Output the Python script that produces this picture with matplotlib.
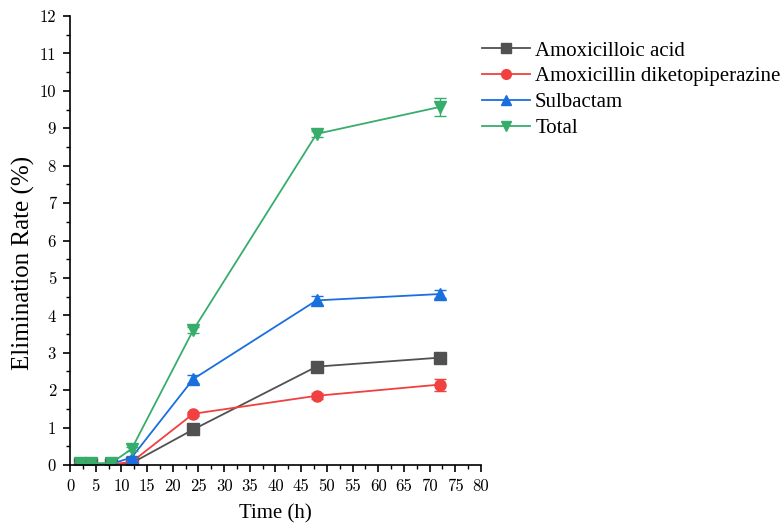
import matplotlib.pyplot as plt
from matplotlib.ticker import MultipleLocator

# sampling times (h)
time_h = [2, 4, 8, 12, 24, 48, 72]

# elimination rate (%) per compound
amoxicilloic = [0.03, 0.03, 0.02, 0.05, 0.95, 2.63, 2.87]
diketopiperazine = [0.02, 0.02, 0.02, 0.08, 1.37, 1.85, 2.15]
sulbactam = [0.03, 0.03, 0.03, 0.20, 2.30, 4.40, 4.57]
total = [0.05, 0.05, 0.05, 0.43, 3.61, 8.85, 9.57]

# standard deviations
amoxicilloic_err = [0.01, 0.01, 0.01, 0.02, 0.04, 0.06, 0.05]
diketopiperazine_err = [0.01, 0.01, 0.01, 0.02, 0.05, 0.08, 0.16]
sulbactam_err = [0.01, 0.01, 0.01, 0.03, 0.10, 0.13, 0.11]
total_err = [0.02, 0.02, 0.02, 0.05, 0.08, 0.08, 0.25]

labels = ["Amoxicilloic acid", "Amoxicillin diketopiperazine", "Sulbactam", "Total"]
colors = ["#515151", "#F14040", "#1A6FDF", "#37AD6B"]
markers = ["s", "o", "^", "v"]

series = [amoxicilloic, diketopiperazine, sulbactam, total]
errors = [amoxicilloic_err, diketopiperazine_err, sulbactam_err, total_err]

serif = "Liberation Serif"

fig = plt.figure(figsize=(7.84, 5.27), dpi=100)
ax = fig.add_axes([0.0893, 0.1176, 0.5242, 0.852])

handles = []
for y, err, lab, c, m in zip(series, errors, labels, colors, markers):
    ax.errorbar(time_h, y, yerr=err, fmt="none", ecolor=c,
                elinewidth=1.0, capsize=4, capthick=1.0)
    line, = ax.plot(time_h, y, color=c, marker=m, markersize=8,
                    linewidth=1.3, label=lab)
    handles.append(line)

ax.set_xlim(0, 80)
ax.set_ylim(0, 12)
ax.xaxis.set_major_locator(MultipleLocator(5))
ax.xaxis.set_minor_locator(MultipleLocator(2.5))
ax.yaxis.set_major_locator(MultipleLocator(1))
ax.yaxis.set_minor_locator(MultipleLocator(0.5))

for side in ["top", "right"]:
    ax.spines[side].set_visible(False)
for side in ["left", "bottom"]:
    ax.spines[side].set_linewidth(1.2)

ax.tick_params(which="major", direction="out", length=5, width=1.2,
               labelsize=12, labelfontfamily="cmr10", pad=5)
ax.tick_params(which="minor", direction="out", length=3, width=1.0)

ax.set_xlabel("Time (h)", fontfamily=serif, fontsize=15)
ax.xaxis.set_label_coords(0.5, -0.088)
ax.set_ylabel("Elimination Rate (%)", fontfamily=serif, fontsize=18)
ax.yaxis.set_label_coords(-0.085, 0.45)

leg = fig.legend(handles=handles, loc="upper left",
                 bbox_to_anchor=(482 / 784, 1 - 41 / 527),
                 bbox_transform=fig.transFigure,
                 frameon=False, prop={"family": serif, "size": 15},
                 handlelength=2.3, handletextpad=0.25, labelspacing=0.3,
                 borderpad=0.0, borderaxespad=0.0)
for h in leg.legend_handles:
    h.set_markersize(7)

fig.savefig("out.png", dpi=100)
